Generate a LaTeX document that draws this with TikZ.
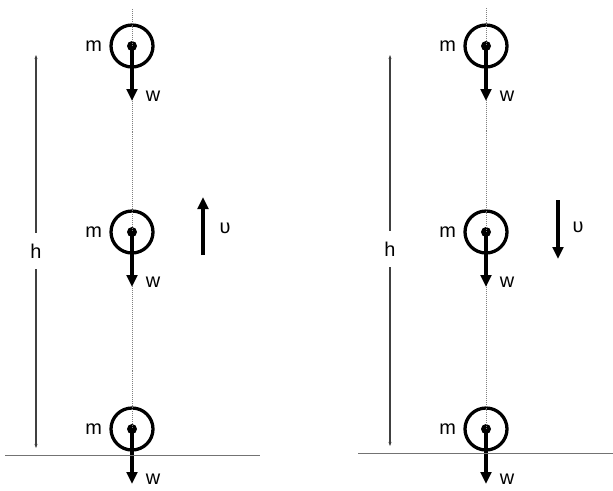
\documentclass[tikz,border=0pt]{standalone}
\usepackage{fontspec}
\setmainfont{Liberation Sans}
\usetikzlibrary{arrows.meta, positioning}

\begin{document}
\begin{tikzpicture}[
    x=0.03cm, y=-0.03cm,
    every node/.style={font=\fontsize{17}{20}\selectfont, inner sep=1pt},
    ball/.style={draw, circle, line width=2.8pt, minimum size=1.26cm, inner sep=0pt},
    massdot/.style={fill, circle, minimum size=0.3cm, inner sep=0pt},
    weight/.style={line width=2.6pt, -{Triangle[length=3.6mm, width=3.2mm]}},
    velocity/.style={line width=2.8pt, -{Triangle[length=3.6mm, width=3.2mm]}},
    plumb/.style={black!50, densely dotted, line width=0.7pt},
    hlabel/.style={inner ysep=0.33cm},
    dimline/.style={black!75, line width=1.1pt, -{Stealth[length=1.2mm]}},
    ground/.style={black!55, line width=0.8pt}
]
\useasboundingbox (0,0) rectangle (613,490);

% falling masses, both panels
\foreach \p/\x/\t in {L/132/9, R/486/8} {
  \coordinate (top\p) at (\x,\t);
  \foreach \n/\y in {1/46,2/232,3/429} {
    \node[ball] (ball\p\n) at (\x,\y) {};
    \node[massdot] (dot\p\n) at (ball\p\n.center) {};
    \node[left=0.18cm of ball\p\n] (m\p\n) {m};
    \coordinate (w\p\n) at (\x,\y+55);
    \node (wlab\p\n) at (\x+21,\y+50) {w};
  }
  \draw[plumb] (top\p) -- (ball\p3.center);
  \foreach \n in {1,2,3}
    \draw[weight] (dot\p\n.center) -- (w\p\n);
}

% height h
\node[hlabel] (hL) at (36,251) {h};
\coordinate (hTopL) at (36,55);
\coordinate (hBotL) at (36,448);
\draw[dimline] (hL.north) -- (hTopL);
\draw[dimline] (hL.south) -- (hBotL);

\node[hlabel] (hR) at (390,249) {h};
\coordinate (hTopR) at (390,55);
\coordinate (hBotR) at (390,446);
\draw[dimline] (hR.north) -- (hTopR);
\draw[dimline] (hR.south) -- (hBotR);

% ground
\coordinate (gAL) at (5,455);
\coordinate (gBL) at (260,455);
\draw[ground] (gAL) -- (gBL);
\coordinate (gAR) at (358,453);
\coordinate (gBR) at (613,453);
\draw[ground] (gAR) -- (gBR);

% velocity u
\coordinate (uStartL) at (203,255);
\coordinate (uEndL) at (203,197);
\draw[velocity] (uStartL) -- (uEndL);
\node (uL) at (225,228) {υ};

\coordinate (uStartR) at (558,200);
\coordinate (uEndR) at (558,259);
\draw[velocity] (uStartR) -- (uEndR);
\node (uR) at (578,227) {υ};
\end{tikzpicture}
\end{document}
